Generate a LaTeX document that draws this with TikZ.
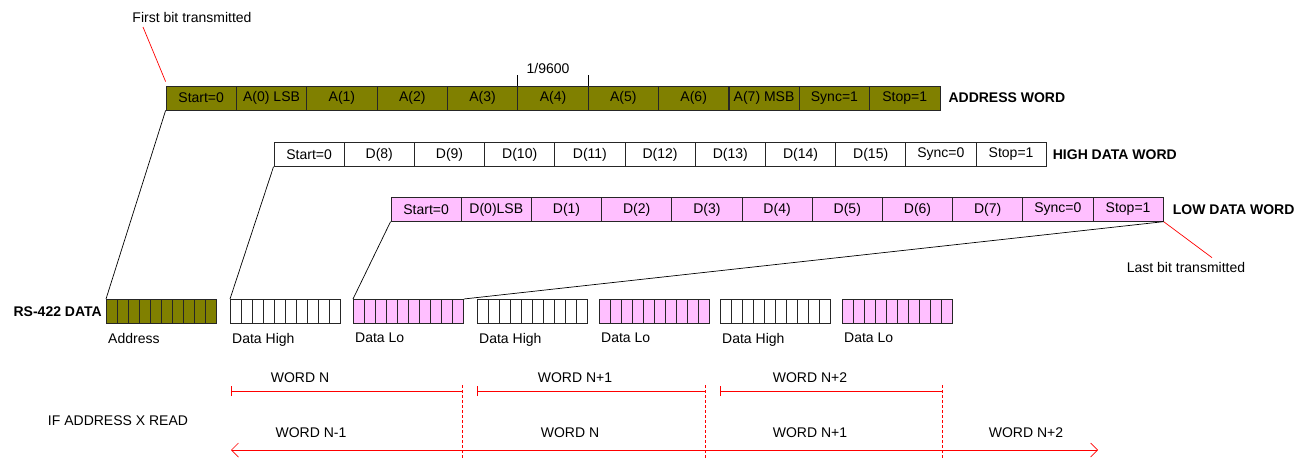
\documentclass[tikz,border=0pt]{standalone}
\usepackage{fontspec}
\setmainfont{Liberation Sans}
\usetikzlibrary{arrows.meta}
\definecolor{addrolive}{RGB}{128,128,0}
\definecolor{lowpink}{RGB}{255,191,255}
\definecolor{mkred}{RGB}{255,0,0}
\begin{document}
\begin{tikzpicture}[x=1pt,y=-1pt,
  font=\fontsize{14}{16}\selectfont,
  cell/.style={draw=black!85, line width=0.8pt, minimum width=70.3pt, minimum height=23.5pt, inner sep=0pt},
  acell/.style={cell, fill=addrolive},
  hcell/.style={cell, fill=white},
  lcell/.style={cell, fill=lowpink},
  wordlbl/.style={font=\fontsize{14}{16}\selectfont\bfseries, anchor=west, inner sep=0pt},
  blk/.style={draw=black!85, line width=0.8pt, minimum width=110pt, minimum height=24pt, inner sep=0pt, anchor=north west,
    path picture={\foreach \k in {1,...,9} \draw[black!85, line width=0.8pt] ([xshift=\k*11pt]path picture bounding box.north west) -- ([xshift=\k*11pt]path picture bounding box.south west);}},
  blklbl/.style={anchor=north west, inner sep=0pt},
  conn/.style={black, line width=0.7pt},
  redline/.style={mkred, line width=0.7pt},
  txt/.style={inner sep=0pt}
]
\useasboundingbox (0,0) rectangle (1299,458);

% ADDRESS WORD
\foreach \t [count=\i] in {Start=0, A(0) LSB, A(1), A(2), A(3), A(4), A(5), A(6), A(7) MSB, Sync=1, Stop=1}
  \node[acell, minimum height=24pt] (a\i) at ({166+70.36*(\i-0.5)},98) {\t};
\node[wordlbl] (aw) at ([xshift=8pt]a11.east) {ADDRESS WORD};

% HIGH DATA WORD
\foreach \t [count=\i] in {Start=0, D(8), D(9), D(10), D(11), D(12), D(13), D(14), D(15), Sync=0, Stop=1}
  \node[hcell] (h\i) at ({274+70.2*(\i-0.5)},154.5) {\t};
\node[wordlbl] (hw) at ([xshift=6pt]h11.east) {HIGH DATA WORD};

% LOW DATA WORD
\foreach \t [count=\i] in {Start=0, D(0)LSB, D(1), D(2), D(3), D(4), D(5), D(6), D(7), Sync=0, Stop=1}
  \node[lcell] (l\i) at ({391+70.2*(\i-0.5)},209.5) {\t};
\node[wordlbl] (lw) at ([xshift=9pt]l11.east) {LOW DATA WORD};

% 1/9600 ticks
\coordinate (t1) at ([yshift=11pt]a6.north west);
\coordinate (t2) at ([yshift=11pt]a6.north east);
\draw[conn] (a6.north west) -- (t1);
\draw[conn] (a6.north east) -- (t2);
\node[txt] (baud) at (548,68) {1/9600};

% first / last bit
\node[txt] (fb) at (192,17) {First bit transmitted};
\coordinate (fbs) at (143,27);
\draw[redline] (fbs) -- ([shift={(0pt,4pt)}]a1.north west);
\node[txt] (lb) at (1186,267) {Last bit transmitted};
\draw[redline] (l11.south east) -- ([shift={(26pt,4pt)}]lb.north);

% RS-422 row
\node[blk, fill=addrolive] (b1) at (106,299) {};
\node[blk, fill=white]     (b2) at (230,299) {};
\node[blk, fill=lowpink]   (b3) at (353,299) {};
\node[blk, fill=white]     (b4) at (477,299) {};
\node[blk, fill=lowpink]   (b5) at (599,299) {};
\node[blk, fill=white]     (b6) at (720,299) {};
\node[blk, fill=lowpink]   (b7) at (842,299) {};
\node[wordlbl, anchor=east] (rs) at ([xshift=-4pt]b1.west) {RS-422 DATA};
\node[blklbl] (bl1) at ([shift={(2pt,-9pt)}]b1.south west) {Address};
\node[blklbl] (bl2) at ([shift={(2pt,-9pt)}]b2.south west) {Data High};
\node[blklbl] (bl3) at ([shift={(2pt,-9pt)}]b3.south west) {Data Lo};
\node[blklbl] (bl4) at ([shift={(2pt,-9pt)}]b4.south west) {Data High};
\node[blklbl] (bl5) at ([shift={(2pt,-9pt)}]b5.south west) {Data Lo};
\node[blklbl] (bl6) at ([shift={(2pt,-9pt)}]b6.south west) {Data High};
\node[blklbl] (bl7) at ([shift={(2pt,-9pt)}]b7.south west) {Data Lo};

% connectors word -> blocks
\draw[conn] (a1.south west) -- (b1.north west);
\draw[conn] (h1.south west) -- (b2.north west);
\draw[conn] (l1.south west) -- (b3.north west);
\draw[conn] (l11.south east) -- (b3.north east);

% timeline
\coordinate (s1) at (231,391); \coordinate (e1) at (462,391);
\coordinate (s2) at (477,391); \coordinate (e2) at (705,391);
\coordinate (s3) at (720,391); \coordinate (e3) at (942,391);
\foreach \s/\e in {s1/e1, s2/e2, s3/e3} {
  \draw[redline] (\s) -- (\e);
  \draw[redline] ([yshift=-5pt]\s) -- ([yshift=5pt]\s);
  \draw[redline, dash pattern=on 3pt off 2pt] ([yshift=6pt]\e) -- ([yshift=-67pt]\e);
}
\node[txt] (wn) at (300,378) {WORD N};
\node[txt] (wn1) at (575,378) {WORD N+1};
\node[txt] (wn2) at (810,378) {WORD N+2};

\node[txt] (ifx) at (118,421) {IF ADDRESS X READ};
\coordinate (la) at (231,450); \coordinate (ra) at (1098,450);
\draw[redline, {Straight Barb[length=7pt,width=14pt]}-{Straight Barb[length=7pt,width=14pt]}] (la) -- (ra);
\node[txt] (m1) at (311,433) {WORD N-1};
\node[txt] (m2) at (570,433) {WORD N};
\node[txt] (m3) at (810,433) {WORD N+1};
\node[txt] (m4) at (1026,433) {WORD N+2};
\end{tikzpicture}
\end{document}
